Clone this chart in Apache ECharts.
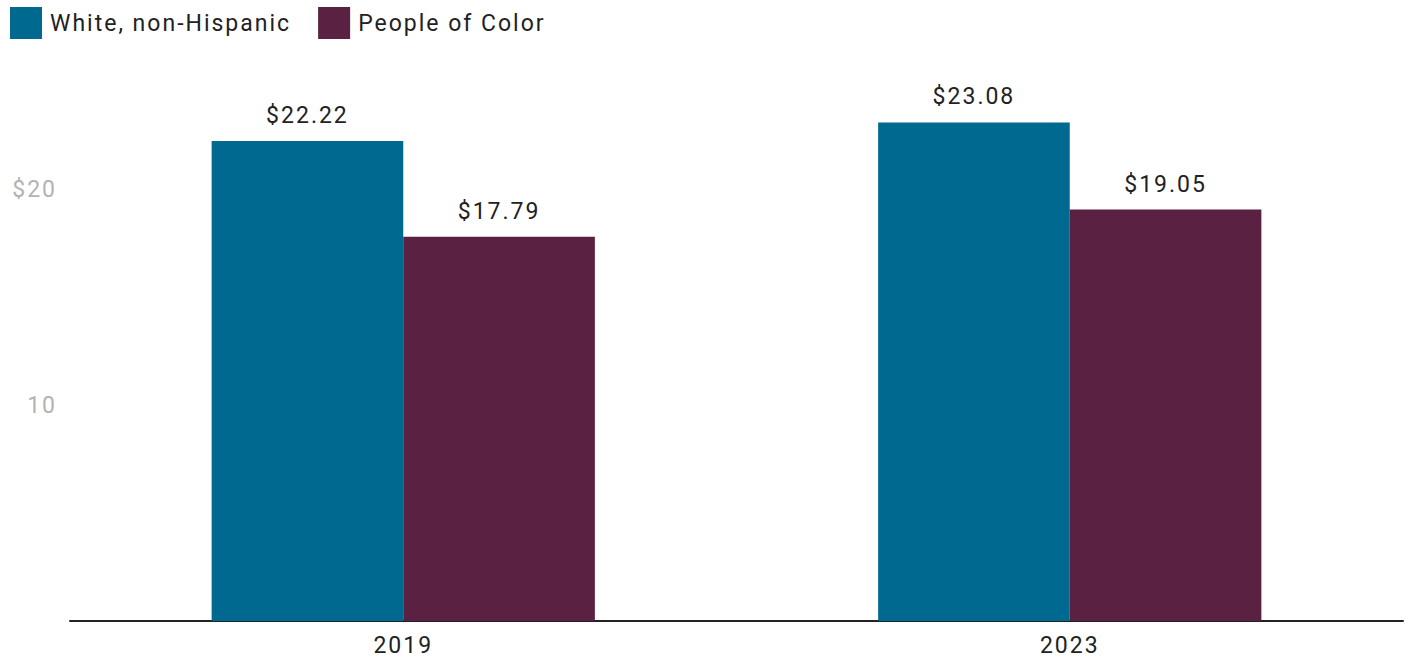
<!DOCTYPE html>
<html>
<head>
<meta charset="utf-8">
<script src="https://cdn.jsdelivr.net/npm/echarts@6/dist/echarts.min.js"></script>
<style>
  html, body { margin: 0; padding: 0; background: #fff; }
  #chart { width: 1408px; height: 658px; }
  /* wide tracking for all chart text */
  #chart text { letter-spacing: 2px; }
</style>
</head>
<body>
<div id="chart"></div>
<script>
// Median hourly wage by group
const years = ['2019', '2023'];
const whiteNonHispanic = [22.22, 23.08];
const peopleOfColor = [17.79, 19.05];
const seriesNames = ['White, non-Hispanic', 'People of Color'];

const FONT = 'Roboto, "Noto Sans", sans-serif';
const FS = 23;

const chart = echarts.init(document.getElementById('chart'), null, { renderer: 'svg' });

const valueLabel = {
  show: true,
  position: 'top',
  distance: 14,
  fontFamily: FONT,
  fontSize: FS,
  color: '#222',
  formatter: p => '$' + p.value.toFixed(2)
};

chart.setOption({
  animation: false,
  legend: {
    left: 10,
    top: 7,
    padding: 0,
    itemWidth: 32,
    itemHeight: 32,
    itemGap: 65,
    icon: 'rect',
    textStyle: { fontFamily: FONT, fontSize: FS, color: '#222', padding: [0, 0, 4, 3] },
    data: seriesNames
  },
  grid: { left: 70, right: 5, top: 81, bottom: 37, containLabel: false },
  xAxis: {
    type: 'category',
    data: years,
    axisLine: { lineStyle: { color: '#222', width: 2 } },
    axisTick: { show: false },
    axisLabel: { fontFamily: FONT, fontSize: FS, color: '#222', margin: 13 }
  },
  yAxis: {
    type: 'value',
    min: 0,
    max: 25,
    interval: 10,
    splitLine: { show: false },
    axisLine: { show: false },
    axisTick: { show: false },
    axisLabel: {
      fontFamily: FONT,
      fontSize: FS,
      color: '#b3b3b3',
      margin: 13,
      showMinLabel: false,
      showMaxLabel: false,
      formatter: v => (v === 20 ? '$20' : v === 10 ? '10' : '')
    }
  },
  series: [
    {
      name: seriesNames[0],
      type: 'bar',
      data: whiteNonHispanic,
      itemStyle: { color: '#00698f' },
      barGap: 0,
      barCategoryGap: '42.5%',
      label: valueLabel
    },
    {
      name: seriesNames[1],
      type: 'bar',
      data: peopleOfColor,
      itemStyle: { color: '#5a2142' },
      label: valueLabel
    }
  ]
});
</script>
</body>
</html>
